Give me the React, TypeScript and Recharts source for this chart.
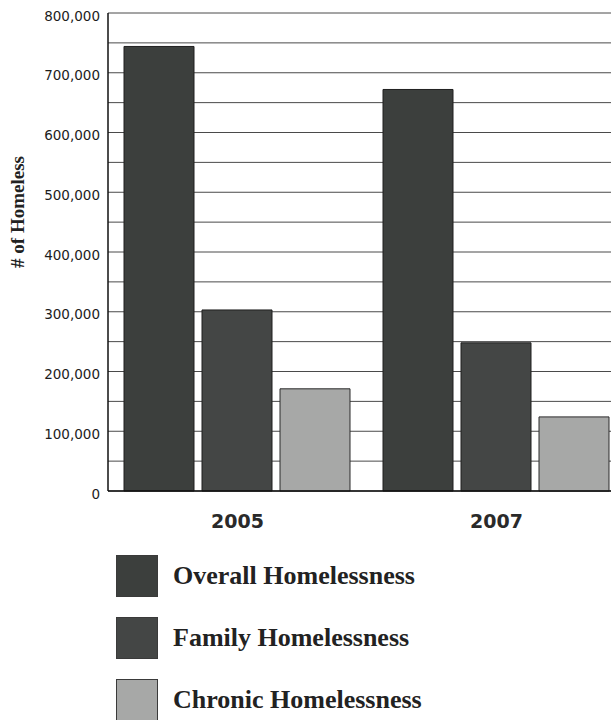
import React from 'react';
import { BarChart, Bar, XAxis, YAxis, CartesianGrid, Legend, Label } from 'recharts';

const categories = ['2005', '2007'];
const overallValues = [744000, 672000];
const familyValues = [303000, 248000];
const chronicValues = [171000, 124000];
const yTicks = [0, 50000, 100000, 150000, 200000, 250000, 300000, 350000, 400000, 450000, 500000, 550000, 600000, 650000, 700000, 750000, 800000];
const seriesNames = ['Overall Homelessness', 'Family Homelessness', 'Chronic Homelessness'];

const data = categories.map((c, i) => ({
  year: c,
  overall: overallValues[i],
  family: familyValues[i],
  chronic: chronicValues[i],
}));

const fmt = (v: number) => v.toLocaleString('en-US');

const YTick = (props: any) => {
  const { x, y, payload } = props;
  const v = payload.value as number;
  if (v % 100000 !== 0) return null;
  return (
    <text x={x} y={y + 3} dy="0.35em" textAnchor="end" fontFamily="'DejaVu Sans', sans-serif" fontSize={13.5} fill="#1c1c1c">
      {fmt(v)}
    </text>
  );
};

const XTick = (props: any) => {
  const { x, y, payload } = props;
  return (
    <text x={x} y={y + 22} dy="0.35em" textAnchor="middle" fontFamily="'DejaVu Sans', sans-serif" fontWeight="bold" fontSize={19} fill="#2a2a2a">
      {payload.value}
    </text>
  );
};

const renderLegend = (props: any) => {
  const { payload } = props;
  const items = [...(payload || [])].sort(
    (a: any, b: any) => seriesNames.indexOf(a.value) - seriesNames.indexOf(b.value)
  );
  return (
    <div>
      {items.map((entry: any, i: number) => (
        <div key={i} style={{ display: 'flex', alignItems: 'center', height: 42, marginBottom: 20 }}>
          <div style={{ width: 42, height: 42, background: entry.color, border: '1px solid #3a3a3a', boxSizing: 'border-box' }} />
          <span style={{ marginLeft: 15, fontFamily: "'Liberation Serif', serif", fontWeight: 'bold', fontSize: 26, lineHeight: '30px', color: '#222', whiteSpace: 'nowrap' }}>
            {entry.value}
          </span>
        </div>
      ))}
    </div>
  );
};

const YLabel = (props: any) => {
  const { viewBox } = props;
  const cx = viewBox.x + 9;
  const cy = viewBox.y + viewBox.height / 2 - 40;
  return (
    <text x={cx} y={cy} dy="0.35em" textAnchor="middle" transform={`rotate(-90, ${cx}, ${cy})`} fontFamily="'Liberation Serif', serif" fontWeight="bold" fontSize={19} fill="#222">
      # of Homeless
    </text>
  );
};

export default function App() {
  return (
    <div style={{ position: 'absolute', top: 0, left: 0, width: 611, height: 720, overflow: 'hidden', background: '#fff' }}>
      <BarChart
        width={626}
        height={720}
        data={data}
        margin={{ top: 13, right: 0, left: 8, bottom: 189 }}
        barCategoryGap={16}
        barGap={8}
      >
        <CartesianGrid horizontal vertical={false} stroke="#4a4a4a" strokeWidth={1} />
        <XAxis dataKey="year" height={40} axisLine={{ stroke: '#111', strokeWidth: 1.5 }} tickLine={false} tick={<XTick />} interval={0} />
        <YAxis
          width={100}
          domain={[0, 800000]}
          ticks={yTicks}
          interval={0}
          axisLine={{ stroke: '#111', strokeWidth: 1.5 }}
          tickLine={false}
          tick={<YTick />}
        >
          <Label content={<YLabel />} />
        </YAxis>
        <Legend
          layout="vertical"
          align="center"
          verticalAlign="middle"
          itemSorter={null as any}
          wrapperStyle={{ top: 555, left: 116, width: 420, height: 170 }}
          content={renderLegend}
        />
        <Bar dataKey="overall" name={seriesNames[0]} fill="#3c3f3d" stroke="#1f1f1f" strokeWidth={1} isAnimationActive={false} />
        <Bar dataKey="family" name={seriesNames[1]} fill="#444645" stroke="#1f1f1f" strokeWidth={1} isAnimationActive={false} />
        <Bar dataKey="chronic" name={seriesNames[2]} fill="#a7a8a7" stroke="#2a2a2a" strokeWidth={1} isAnimationActive={false} />
      </BarChart>
    </div>
  );
}
